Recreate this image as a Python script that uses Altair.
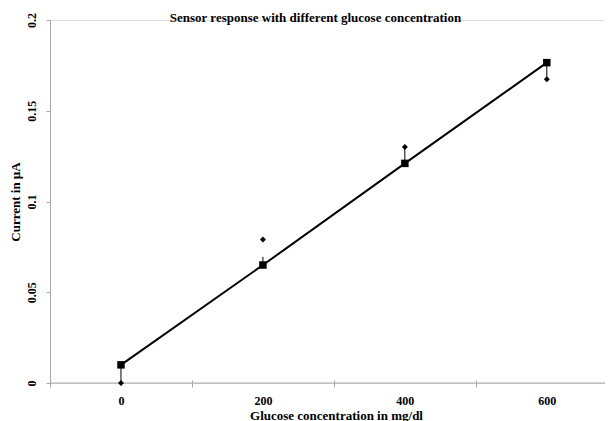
import altair as alt
import pandas as pd

# Data
glucose = [0, 200, 400, 600]
current_fit = [0.010, 0.065, 0.121, 0.1765]     # squares joined by the line
current_meas = [0.000, 0.079, 0.130, 0.1673]    # diamonds
err_end = [0.000, 0.0695, 0.130, 0.1673]        # error bar end from each square

x_ticks = [-100, 0, 100, 200, 300, 400, 500, 600]
y_ticks = [0, 0.05, 0.1, 0.15, 0.2]

df = pd.DataFrame({"glucose": glucose, "fit": current_fit,
                   "meas": current_meas, "err": err_end})
zero_df = pd.DataFrame({"zero": [0]})

FONT = "Liberation Serif"
AXIS_GRAY = "#a8a8a8"

x_scale = alt.Scale(domain=[-100, 682], nice=False, zero=False)
y_scale = alt.Scale(domain=[0, 0.2], nice=False, zero=False)

x_axis = alt.Axis(
    title="Glucose concentration in mg/dl",
    values=x_ticks,
    format="d",
    labelExpr="datum.value % 200 == 0 ? datum.label : ''",
    domain=False,
    grid=False,
    offset=-3,
    tickSize=7,
    tickColor=AXIS_GRAY,
    tickOpacity={"condition": {"test": "datum.value % 200 != 0", "value": 1}, "value": 0},
    labelPadding=8,
    labelFont=FONT, labelFontSize=12, labelFontWeight="bold", labelColor="black",
    titleFont=FONT, titleFontSize=13, titleFontWeight="bold", titleColor="black",
    titlePadding=3,
    titleX=286, titleAlign="center",
)

y_axis = alt.Axis(
    title="Current in µA",
    values=y_ticks,
    format="~g",
    grid=False,
    domainColor=AXIS_GRAY,
    tickColor=AXIS_GRAY,
    tickSize=4,
    labelAngle=-90,
    labelAlign="center",
    labelBaseline="bottom",
    labelPadding=8,
    labelFont=FONT, labelFontSize=12, labelFontWeight="bold", labelColor="black",
    titleFont=FONT, titleFontSize=13, titleFontWeight="bold", titleColor="black",
    titlePadding=3,
)

base = alt.Chart(df).encode(x=alt.X("glucose:Q", scale=x_scale, axis=x_axis))

zero_line = alt.Chart(zero_df).mark_rule(color=AXIS_GRAY, strokeWidth=1).encode(
    y=alt.Y("zero:Q", scale=y_scale, axis=y_axis)
)

err_bars = base.mark_rule(color="black", strokeWidth=1).encode(
    y=alt.Y("fit:Q", scale=y_scale, axis=y_axis), y2="err:Q"
)

line = base.mark_line(color="black", strokeWidth=2).encode(
    y=alt.Y("fit:Q", scale=y_scale, axis=y_axis)
)

squares = base.mark_point(shape="square", filled=True, color="black", size=56, opacity=1).encode(
    y=alt.Y("fit:Q", scale=y_scale, axis=y_axis)
)

diamonds = base.mark_point(shape="diamond", filled=True, color="black", size=36, opacity=1).encode(
    y=alt.Y("meas:Q", scale=y_scale, axis=y_axis)
)

chart = alt.layer(zero_line, err_bars, line, squares, diamonds).properties(
    width=555,
    height=363,
    autosize=alt.AutoSizeParams(type="none"),
    padding={"left": 42, "top": 12, "right": 0, "bottom": 38},
    title=alt.TitleParams(
        text="Sensor response with different glucose concentration",
        font=FONT, fontSize=13, fontWeight="bold", color="black",
        anchor="middle", frame="group", orient="top",
        baseline="alphabetic", offset=-22, dx=-12,
    ),
).configure_view(stroke=None).configure(background="white")

chart.save("out.html", embed_options={"renderer": "svg", "actions": False})
